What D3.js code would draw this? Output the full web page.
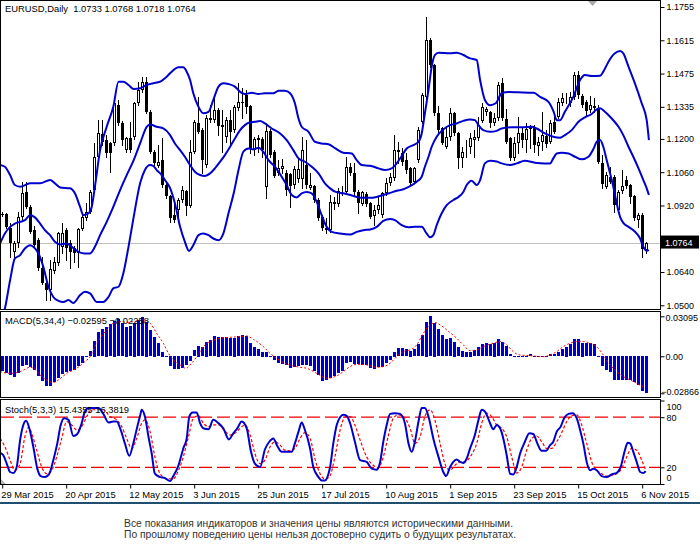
<!DOCTYPE html>
<html>
<head>
<meta charset="utf-8">
<script src="https://d3js.org/d3.v7.min.js"></script>
<style>
  body { margin: 0; background: #fff; }
  svg text { font-family: Tahoma, "Liberation Sans", Arial, sans-serif; }
</style>
</head>
<body>
<svg id="chart"></svg>
<script>
// EURUSD daily, bars numbered 1..162 from left to right
var opens = [1.0884,1.0884,1.0825,1.0724,1.0761,1.0871,1.0976,1.0913,1.0816,1.0774,
  1.0656,1.0593,1.0564,1.0644,1.0677,1.0745,1.0816,1.0761,1.0740,1.0719,
  1.0820,1.0867,1.0892,1.0985,1.1124,1.1221,1.1195,1.1182,1.1182,1.1342,
  1.1267,1.1153,1.1204,1.1208,1.1351,1.1406,1.1439,1.1313,1.1145,1.1086,
  1.1111,1.1006,1.0959,1.0879,1.0900,1.0943,1.0980,1.0917,1.1145,1.1267,
  1.1237,1.1090,1.1279,1.1279,1.1321,1.1258,1.1208,1.1279,1.1237,1.1330,
  1.1355,1.1385,1.1338,1.1153,1.1195,1.1199,1.0997,1.1233,1.1145,1.1056,
  1.1073,1.1056,1.1052,1.1006,1.1031,1.1031,1.1090,1.0993,1.1001,1.0943,
  1.0871,1.0825,1.0816,1.0935,1.0928,1.0980,1.0976,1.1081,1.1056,1.0976,
  1.0926,1.0968,1.0930,1.0875,1.0900,1.0879,1.0972,1.1014,1.1035,1.1145,
  1.1140,1.1111,1.1077,1.1018,1.1111,1.1271,1.1376,1.1616,1.1511,1.1309,
  1.1246,1.1166,1.1208,1.1309,1.1225,1.1119,1.1161,1.1166,1.1195,1.1204,
  1.1275,1.1313,1.1313,1.1267,1.1288,1.1435,1.1284,1.1204,1.1119,1.1182,
  1.1225,1.1195,1.1241,1.1246,1.1170,1.1187,1.1212,1.1187,1.1271,1.1292,
  1.1351,1.1364,1.1351,1.1376,1.1469,1.1380,1.1355,1.1321,1.1338,1.1330,
  1.1098,1.0997,1.1039,1.1039,1.0900,1.0980,1.1027,1.1006,1.0959,1.0858,
  1.0879,1.0733];
var highs = [1.0892,1.0888,1.0846,1.0770,1.0892,1.1018,1.1018,1.0921,1.0833,1.0783,
  1.0703,1.0597,1.0690,1.0703,1.0808,1.0846,1.0825,1.0774,1.0749,1.0825,
  1.0888,1.0930,1.0985,1.1182,1.1279,1.1279,1.1216,1.1187,1.1372,1.1364,
  1.1275,1.1208,1.1271,1.1355,1.1439,1.1460,1.1460,1.1321,1.1153,1.1174,
  1.1204,1.1014,1.0964,1.0926,1.0951,1.1001,1.0985,1.1195,1.1279,1.1376,
  1.1246,1.1300,1.1342,1.1376,1.1330,1.1321,1.1292,1.1321,1.1342,1.1435,
  1.1414,1.1406,1.1342,1.1208,1.1216,1.1208,1.1258,1.1241,1.1153,1.1111,
  1.1115,1.1069,1.1056,1.1086,1.1119,1.1208,1.1195,1.1056,1.1006,1.0951,
  1.0879,1.0867,1.0964,1.0955,1.0995,1.1000,1.1124,1.1098,1.1098,1.0985,
  1.0980,1.0976,1.0934,1.0921,1.0955,1.0976,1.1035,1.1056,1.1216,1.1187,
  1.1161,1.1140,1.1081,1.1081,1.1250,1.1393,1.1713,1.1625,1.1515,1.1338,
  1.1250,1.1246,1.1330,1.1313,1.1229,1.1166,1.1195,1.1225,1.1237,1.1292,
  1.1351,1.1334,1.1317,1.1309,1.1439,1.1456,1.1326,1.1208,1.1208,1.1292,
  1.1250,1.1267,1.1258,1.1258,1.1208,1.1313,1.1237,1.1279,1.1292,1.1372,
  1.1393,1.1393,1.1397,1.1481,1.1486,1.1389,1.1364,1.1380,1.1372,1.1342,
  1.1132,1.1060,1.1081,1.1048,1.0985,1.1069,1.1044,1.1010,1.0964,1.0888,
  1.0888,1.0768];
var lows = [1.0875,1.0825,1.0703,1.0703,1.0745,1.0858,1.0909,1.0804,1.0740,1.0648,
  1.0589,1.0522,1.0522,1.0635,1.0669,1.0719,1.0690,1.0656,1.0682,1.0660,
  1.0816,1.0858,1.0888,1.0976,1.1111,1.1174,1.1124,1.1060,1.1174,1.1258,
  1.1174,1.1145,1.1145,1.1199,1.1342,1.1397,1.1309,1.1140,1.1086,1.1081,
  1.0997,1.0951,1.0850,1.0850,1.0871,1.0934,1.0879,1.0913,1.1140,1.1225,
  1.1056,1.1081,1.1271,1.1271,1.1216,1.1145,1.1187,1.1174,1.1229,1.1321,
  1.1288,1.1309,1.1140,1.1132,1.1145,1.1124,1.0951,1.1124,1.1039,1.1048,
  1.1056,1.0964,1.0913,1.0993,1.1018,1.0993,1.0993,1.0989,1.0934,1.0858,
  1.0816,1.0804,1.0808,1.0905,1.0918,1.0965,1.0972,1.1048,1.0964,1.0888,
  1.0921,1.0917,1.0867,1.0837,1.0888,1.0871,1.0964,1.1006,1.1027,1.1098,
  1.1090,1.1056,1.1006,1.1014,1.1102,1.1267,1.1372,1.1502,1.1300,1.1229,
  1.1178,1.1161,1.1195,1.1216,1.1077,1.1081,1.1124,1.1140,1.1124,1.1195,
  1.1271,1.1300,1.1250,1.1258,1.1279,1.1279,1.1182,1.1111,1.1111,1.1140,
  1.1166,1.1145,1.1161,1.1145,1.1132,1.1153,1.1166,1.1182,1.1225,1.1288,
  1.1342,1.1351,1.1338,1.1368,1.1372,1.1334,1.1300,1.1313,1.1313,1.1098,
  1.0993,1.0993,1.1014,1.0892,1.0892,1.0972,1.0993,1.0930,1.0858,1.0829,
  1.0703,1.0718];
var closes = [1.0880,1.0829,1.0761,1.0761,1.0871,1.0972,1.0913,1.0808,1.0753,1.0656,
  1.0593,1.0564,1.0652,1.0682,1.0804,1.0804,1.0740,1.0724,1.0719,1.0820,
  1.0871,1.0892,1.0976,1.1124,1.1225,1.1187,1.1140,1.1140,1.1351,1.1267,
  1.1195,1.1204,1.1153,1.1351,1.1406,1.1439,1.1313,1.1145,1.1098,1.1102,
  1.1006,1.0959,1.0867,1.0858,1.0943,1.0985,1.0917,1.1145,1.1271,1.1229,
  1.1111,1.1288,1.1288,1.1321,1.1254,1.1250,1.1279,1.1229,1.1334,1.1355,
  1.1351,1.1334,1.1161,1.1199,1.1204,1.1153,1.1233,1.1132,1.1044,1.1077,
  1.1086,1.0985,1.1001,1.1073,1.1073,1.1153,1.1006,1.1006,1.0943,1.0867,
  1.0825,1.0816,1.0934,1.0928,1.0980,1.0983,1.1081,1.1056,1.0976,1.0930,
  1.0976,1.0926,1.0871,1.0900,1.0921,1.0972,1.1014,1.1039,1.1153,1.1153,
  1.1102,1.1069,1.1014,1.1077,1.1237,1.1385,1.1616,1.1511,1.1309,1.1237,
  1.1182,1.1208,1.1309,1.1225,1.1119,1.1145,1.1166,1.1204,1.1208,1.1258,
  1.1334,1.1326,1.1267,1.1288,1.1427,1.1288,1.1187,1.1119,1.1182,1.1225,
  1.1195,1.1241,1.1250,1.1174,1.1187,1.1216,1.1178,1.1267,1.1229,1.1355,
  1.1372,1.1368,1.1376,1.1469,1.1385,1.1342,1.1317,1.1342,1.1330,1.1102,
  1.1010,1.1048,1.1018,1.0921,1.0976,1.1001,1.1001,1.0955,1.0867,1.0879,
  1.0736,1.0764];

// Bollinger bands: [bar, price]
var bbUpper = [[0.6,1.1090],[1.8,1.1083],[3.1,1.1048],[4.3,1.1006],[5.6,1.0999],[8.1,1.1013],[10.6,1.1013],[13.1,1.1027],[14.3,1.1013],[15.6,1.0996],
  [18.1,1.0992],[19.3,1.0971],[20.6,1.0914],[21.4,1.0879],[22.7,1.0887],[23.5,1.0914],[24.3,1.0999],[25.6,1.1153],[27.25,1.1251],[28.9,1.1335],
  [30.2,1.1441],[31.4,1.1441],[32.7,1.1427],[34,1.1410],[35.6,1.1413],[37.25,1.1427],[38.9,1.1434],[40.6,1.1441],[42.25,1.1462],[43.5,1.1483],
  [45.2,1.1501],[46.4,1.1501],[47.25,1.1483],[48.1,1.1448],[48.9,1.1392],[50.2,1.1335],[51.4,1.1308],[52.7,1.1314],[53.9,1.1364],[55.2,1.1420],
  [56.4,1.1434],[57.7,1.1431],[59.3,1.1420],[60.6,1.1398],[61.8,1.1389],[63.5,1.1394],[65.2,1.1389],[66.8,1.1392],[68.9,1.1392],[70.2,1.1403],
  [71.8,1.1403],[73.1,1.1392],[74.3,1.1350],[75.2,1.1286],[76,1.1251],[77.7,1.1230],[79.3,1.1188],[81,1.1181],[82.7,1.1178],[84.3,1.1161],
  [86.4,1.1142],[88.5,1.1139],[89.75,1.1111],[91,1.1090],[93.1,1.1087],[95.2,1.1076],[96.8,1.1069],[98.5,1.1076],[99.75,1.1097],[101,1.1128],
  [102.25,1.1160],[103.9,1.1174],[105.2,1.1188],[106,1.1223],[106.8,1.1308],[107.7,1.1406],[108.5,1.1504],[109.3,1.1553],[110.2,1.1563],[113.1,1.1560],
  [114.75,1.1563],[116.4,1.1553],[118.1,1.1539],[119.75,1.1532],[120.6,1.1448],[121.8,1.1364],[123.1,1.1342],[124.5,1.1350],[126,1.1392],[127.7,1.1397],
  [130.2,1.1396],[134,1.1394],[135.6,1.1377],[137.7,1.1356],[139,1.1314],[139.75,1.1279],[140.6,1.1279],[141.8,1.1314],[143.9,1.1377],[145.6,1.1448],
  [146.8,1.1469],[148.5,1.1465],[150.6,1.1466],[151.4,1.1483],[152.7,1.1525],[154.3,1.1560],[155.6,1.1570],[156.4,1.1560],[157.7,1.1504],[159.3,1.1434],
  [161,1.1350],[162.25,1.1279],[162.8,1.1195]];
var bbMiddle = [[0.6,1.0760],[1.8,1.0802],[3.1,1.0830],[4.3,1.0844],[5.6,1.0851],[6.8,1.0858],[8.1,1.0879],[9.3,1.0870],[10.6,1.0844],[11.8,1.0816],
  [13.1,1.0795],[14.3,1.0767],[15.6,1.0756],[17.25,1.0760],[18.5,1.0746],[20.2,1.0725],[21.8,1.0718],[23.1,1.0718],[24.3,1.0746],[25.6,1.0795],
  [27.25,1.0851],[28.9,1.0914],[30.6,1.0985],[32.25,1.1048],[34,1.1111],[35.6,1.1181],[37.25,1.1251],[38.1,1.1261],[39.75,1.1251],[41.4,1.1244],
  [43.1,1.1216],[44.3,1.1181],[45.6,1.1153],[46.8,1.1125],[48.1,1.1090],[49.3,1.1062],[50.6,1.1048],[51.8,1.1044],[53.1,1.1055],[54.3,1.1076],
  [55.6,1.1104],[56.8,1.1132],[58.1,1.1167],[59.3,1.1202],[60.6,1.1237],[61.8,1.1258],[63.1,1.1270],[64.3,1.1272],[65.6,1.1275],[66.8,1.1265],
  [68.5,1.1244],[70.6,1.1223],[72.25,1.1195],[73.9,1.1153],[75.2,1.1118],[76.8,1.1104],[78.5,1.1083],[80.2,1.1055],[81.8,1.1013],[83.1,1.0992],
  [84.5,1.0977],[86.4,1.0971],[88.1,1.0964],[89.75,1.0956],[91.4,1.0952],[93.1,1.0952],[94.75,1.0956],[96.4,1.0964],[98.1,1.0973],[99.75,1.0982],
  [101.4,1.0988],[103.1,1.1001],[104.75,1.1020],[106,1.1041],[106.8,1.1083],[107.7,1.1125],[108.5,1.1167],[109.75,1.1209],[111.4,1.1240],[113.1,1.1258],
  [114.75,1.1265],[116.4,1.1276],[118.1,1.1282],[119.3,1.1279],[120.2,1.1258],[121.4,1.1237],[123.1,1.1230],[124.75,1.1234],[126,1.1244],[128.5,1.1249],
  [131,1.1249],[133.5,1.1251],[134.75,1.1244],[136.8,1.1223],[138.9,1.1209],[140.6,1.1205],[141.8,1.1216],[143.5,1.1237],[145.2,1.1272],[146.8,1.1291],
  [148.5,1.1305],[149.75,1.1324],[150.6,1.1329],[151.8,1.1314],[153.5,1.1286],[155.2,1.1251],[156.4,1.1216],[157.7,1.1167],[158.9,1.1125],[160.2,1.1076],
  [161.4,1.1027],[162.25,1.0992],[162.8,1.0964]];
var bbLower = [[0.6,1.0437],[1.8,1.0487],[3.1,1.0606],[4.3,1.0697],[5.6,1.0711],[6.8,1.0739],[8.1,1.0753],[8.9,1.0746],[10.2,1.0718],[11.4,1.0662],
  [12.7,1.0578],[13.9,1.0535],[15.2,1.0519],[16.4,1.0514],[17.7,1.0522],[18.9,1.0510],[20.6,1.0543],[21.8,1.0557],[23.1,1.0550],[24.75,1.0514],
  [26.4,1.0514],[27.7,1.0535],[28.9,1.0571],[30.2,1.0578],[31.4,1.0634],[32.7,1.0746],[34,1.0872],[35.6,1.1013],[36.8,1.1069],[38.1,1.1090],
  [38.9,1.1086],[39.75,1.1069],[41,1.1048],[41.8,1.1027],[43.1,1.0993],[44.3,1.0929],[45.6,1.0830],[46.8,1.0767],[47.8,1.0729],[48.9,1.0753],
  [50.2,1.0795],[51.4,1.0802],[52.7,1.0795],[53.9,1.0781],[55.2,1.0774],[56.4,1.0802],[57.7,1.0887],[59,1.0971],[60.2,1.1069],[61.4,1.1146],
  [62.7,1.1160],[63.9,1.1156],[65.2,1.1163],[66.4,1.1146],[67.7,1.1111],[69.3,1.1083],[71,1.1041],[72.25,1.1006],[73.5,1.0964],[74.75,1.0954],
  [76,1.0971],[77.25,1.0977],[78.5,1.0971],[79.75,1.0935],[81,1.0879],[82.25,1.0830],[83.5,1.0809],[85.6,1.0802],[88.1,1.0798],[89.75,1.0809],
  [91.4,1.0816],[93.1,1.0819],[94.75,1.0830],[96.4,1.0855],[98.1,1.0863],[99.3,1.0858],[101,1.0837],[102.7,1.0828],[104.3,1.0830],[106,1.0830],
  [107.25,1.0802],[108.1,1.0786],[108.9,1.0795],[109.75,1.0837],[111,1.0887],[112.25,1.0921],[113.9,1.0943],[115.2,1.0956],[116.4,1.0977],[117.25,1.1006],
  [118.5,1.1024],[119.75,1.1006],[120.6,1.1027],[121.8,1.1097],[123.1,1.1108],[124.75,1.1105],[126,1.1097],[128.1,1.1090],[129.75,1.1097],[131.8,1.1108],
  [134.3,1.1100],[136.8,1.1097],[138.1,1.1097],[138.9,1.1118],[139.75,1.1139],[141,1.1142],[142.7,1.1139],[144.3,1.1125],[146,1.1114],[147.7,1.1125],
  [149,1.1160],[149.75,1.1188],[150.6,1.1195],[151.4,1.1167],[152.25,1.1111],[153.1,1.1055],[153.9,1.0999],[154.75,1.0929],[155.6,1.0872],[156.4,1.0847],
  [157.7,1.0830],[158.9,1.0816],[159.75,1.0802],[160.6,1.0781],[161.4,1.0746],[162.25,1.0729],[162.8,1.0732]];

// MACD(5,34,4) histogram, one value per bar, and its signal line
var macdHist = [-0.01187,-0.01316,-0.01497,-0.01652,-0.01316,-0.00800,-0.00671,-0.00852,-0.01058,-0.01574,
  -0.01961,-0.02348,-0.02297,-0.02039,-0.01703,-0.01394,-0.01265,-0.01187,-0.01058,-0.00748,
  -0.00542,-0.00103,0.00413,0.01213,0.01858,0.02090,0.02297,0.02503,0.02761,0.02865,
  0.02555,0.02297,0.02348,0.02606,0.02813,0.03050,0.02684,0.02039,0.01523,0.01006,
  0.00361,-0.00103,-0.00748,-0.00981,-0.00981,-0.00929,-0.00671,-0.00361,0.00490,0.00826,
  0.00697,0.01135,0.01265,0.01574,0.01523,0.01471,0.01471,0.01419,0.01445,0.01574,
  0.01626,0.01574,0.01006,0.00697,0.00542,0.00361,0.00361,0.00052,-0.00335,-0.00542,
  -0.00619,-0.00671,-0.00929,-0.00852,-0.00800,-0.00671,-0.00671,-0.00800,-0.01135,-0.01445,
  -0.01961,-0.01832,-0.01703,-0.01574,-0.01316,-0.01135,-0.00542,-0.00490,-0.00594,-0.00594,
  -0.00671,-0.00671,-0.00929,-0.01006,-0.00877,-0.00852,-0.00542,-0.00284,0.00361,0.00619,
  0.00619,0.00542,0.00439,0.00542,0.00955,0.01652,0.02684,0.03095,0.02606,0.02116,
  0.01652,0.01316,0.01394,0.01135,0.00697,0.00439,0.00361,0.00361,0.00490,0.00697,
  0.00929,0.01006,0.00955,0.01058,0.01316,0.01084,0.00800,0.00181,-0.00026,0.00052,
  -0.00026,0.00052,0.00155,0.00026,-0.00077,-0.00026,-0.00026,0.00155,0.00181,0.00310,
  0.00542,0.00748,0.00929,0.01316,0.01316,0.01058,0.01006,0.01006,0.00929,-0.00026,
  -0.00800,-0.01058,-0.01265,-0.01832,-0.01884,-0.01832,-0.01832,-0.01884,-0.02039,-0.02219,
  -0.02735,-0.02866];
var macdSignal = [[0.6,-0.0119],[3.1,-0.0132],[5.6,-0.0119],[8.1,-0.0085],[9.3,-0.0101],[10.6,-0.0145],[12.25,-0.0183],[13.9,-0.0204],[15.2,-0.0183],[17.25,-0.0132],
  [19.75,-0.0093],[21.8,-0.0041],[23.1,-0.0003],[24.3,0.0075],[25.6,0.0139],[27.25,0.0204],[28.9,0.0256],[30.6,0.0268],[32.25,0.0263],[33.9,0.0268],
  [36.4,0.0281],[38.1,0.0256],[39.75,0.0178],[41.4,0.0101],[42.7,0.0023],[43.9,-0.0028],[45.6,-0.0067],[47,-0.0093],[48.5,-0.0054],[49.75,-0.0003],
  [51.4,0.0075],[53.1,0.0114],[55.6,0.0139],[58.1,0.0147],[60.6,0.0152],[62.25,0.0157],[63.9,0.0132],[66.4,0.0075],[68.1,0.0023],[69.75,-0.0016],
  [71.4,-0.0049],[73.9,-0.0075],[75.6,-0.0085],[77.25,-0.0093],[79.75,-0.0132],[82.25,-0.0170],[84.75,-0.0152],[86.4,-0.0119],[88.1,-0.0080],[89.75,-0.0062],
  [92.25,-0.0067],[94.75,-0.0085],[96.4,-0.0080],[98.1,-0.0054],[99.75,-0.0003],[101.4,0.0036],[103.5,0.0054],[104.75,0.0088],[106.4,0.0178],[108.1,0.0243],
  [109.3,0.0261],[110.6,0.0243],[112.25,0.0204],[114.75,0.0139],[116.4,0.0088],[118.1,0.0044],[119.75,0.0049],[121.4,0.0075],[123.9,0.0101],[125.6,0.0114],
  [127.25,0.0088],[128.9,0.0036],[130.5,0.0010],[133,0.0005],[136.4,-0.0003],[138.1,0.0010],[139.75,0.0036],[141.4,0.0075],[143.1,0.0101],[144.75,0.0114],
  [146.4,0.0114],[148.1,0.0101],[149.75,0.0075],[151.4,0.0010],[153.1,-0.0067],[154.75,-0.0119],[156.4,-0.0157],[158.1,-0.0183],[159.75,-0.0209],[161,-0.0230],
  [162,-0.0236]];

// Stochastic(5,3,3): main and signal, [bar, value]
var stochMain = [[0.6,37.3],[1.4,34.5],[2.25,24.4],[3.1,14.4],[3.9,13.2],[4.75,20.4],[5.6,52.6],[6.4,70.7],[7.1,75.6],[7.9,66.7],
  [8.9,44.6],[9.9,18.4],[10.75,9.5],[11.8,8.3],[12.9,12.3],[13.9,28.5],[14.9,48.6],[15.75,70.7],[16.6,78.8],[17.7,76.8],
  [18.9,57.5],[19.9,59.9],[21,72.8],[21.8,86.9],[22.7,90.9],[23.9,90.9],[25.2,90.9],[26.4,84.0],[27.7,73.6],[28.9,74.8],
  [29.75,74.8],[30.75,64.7],[31.8,48.6],[32.9,33.7],[33.9,48.6],[34.9,68.7],[35.6,81.6],[36,88.9],[36.8,80.8],[37.7,56.6],
  [38.5,36.5],[39.3,12.3],[40.6,8.3],[41.8,7.1],[43.1,3.5],[43.9,9.5],[45.2,22.4],[46.4,42.6],[47.25,54.6],[47.9,80.8],
  [48.75,85.6],[49.75,85.6],[50.6,72.8],[51.4,66.7],[52.7,65.5],[53.9,76.8],[55.2,72.8],[56.4,66.7],[57.8,53.4],[58.9,60.7],
  [59.9,66.7],[61,74.8],[62.25,66.7],[63.25,40.5],[64.3,24.4],[65.6,20.4],[66.8,41.3],[67.9,50.6],[68.9,54.6],[69.9,45.4],
  [71,38.5],[72.25,38.5],[73.5,38.5],[74.3,48.6],[75.2,62.7],[76,73.6],[76.8,64.7],[78.1,42.6],[78.9,20.4],[80.2,8.3],
  [81,4.3],[81.8,4.3],[82.7,12.3],[83.1,20.4],[83.9,48.6],[84.75,70.7],[85.6,80.0],[86.4,82.8],[87.25,81.6],[88.1,72.8],
  [89.3,50.6],[90.6,28.5],[92.25,26.4],[93.5,18.4],[94.75,17.2],[95.6,26.4],[96.4,50.6],[97.25,70.7],[98.1,84.0],[99.3,84.8],
  [100.6,84.0],[101.8,72.8],[102.7,48.6],[103.5,38.5],[104.3,50.6],[105.2,74.8],[106,90.9],[106.8,90.9],[107.7,80.8],[108.9,54.6],
  [110.2,32.5],[111.4,14.4],[112.1,9.5],[113.1,20.4],[113.9,26.4],[114.75,29.3],[115.6,26.4],[116.4,25.2],[117.25,30.5],[118.1,42.6],
  [119.3,58.7],[120.2,76.8],[121,88.9],[121.8,86.9],[123.1,72.8],[123.9,65.5],[124.75,70.7],[125.6,66.7],[126.4,54.6],[127.25,34.5],
  [128.1,12.3],[128.9,11.5],[129.75,20.4],[130.6,36.5],[131.8,50.6],[132.9,60.7],[133.9,59.9],[134.9,48.6],[136,39.7],[137.1,39.7],
  [138.1,46.6],[138.9,50.6],[139.75,62.7],[140.75,68.7],[141.6,78.8],[142.7,84.0],[143.7,84.8],[144.75,78.8],[145.6,64.7],[146.4,48.6],
  [147.25,26.4],[148.1,16.4],[148.9,18.4],[149.75,16.4],[151,9.5],[152.25,8.3],[153.5,11.5],[154.75,13.2],[155.75,20.4],[156.8,40.5],
  [157.5,49.4],[158.1,48.6],[158.9,38.5],[159.75,26.4],[160.6,14.4],[161.4,13.2],[162,15.4]];
var stochSignal = [[0.6,54.6],[1.8,44.6],[3.1,28.5],[4.3,16.4],[5.6,24.4],[6.8,56.6],[7.7,67.9],[8.5,60.7],[9.75,40.5],[11,20.4],
  [12.25,12.3],[13.5,16.4],[14.75,32.5],[16,54.6],[17.25,74.8],[18.5,70.7],[19.75,64.7],[21,68.7],[22.25,80.8],[23.5,88.9],
  [25.2,88.9],[26.4,88.9],[28.1,80.8],[29.75,76.8],[31,68.7],[32.25,54.6],[33.5,42.6],[34.75,54.6],[36,72.8],[36.8,76.8],
  [38.1,62.7],[39.3,32.5],[40.6,12.3],[42.25,6.3],[43.9,6.3],[45.2,16.4],[46.4,32.5],[47.7,56.6],[48.9,78.8],[50.2,81.6],
  [51.4,72.8],[52.7,68.7],[53.9,70.7],[55.2,70.7],[56.4,65.5],[58.1,58.7],[59.3,60.7],[60.6,66.7],[61.8,70.7],[63.1,58.7],
  [64.3,36.5],[65.6,24.4],[66.8,28.5],[68.1,44.6],[69.3,50.6],[70.6,46.6],[71.8,40.5],[73.1,39.7],[74.3,42.6],[75.6,54.6],
  [76.8,61.5],[78.1,54.6],[79.3,30.5],[80.6,12.3],[81.8,6.3],[82.9,8.3],[84.3,32.5],[85.6,64.7],[86.8,80.0],[88.1,80.8],
  [89.3,70.7],[90.6,52.6],[92.25,32.5],[93.9,22.4],[95.2,19.6],[96.4,32.5],[97.7,58.7],[98.9,78.8],[100.2,82.8],[101.4,80.8],
  [103.1,66.7],[104.3,48.6],[105.6,56.6],[106.8,80.8],[108.1,88.9],[109.3,76.8],[110.6,48.6],[111.8,24.4],[113.1,16.4],[114.3,22.4],
  [115.6,26.4],[116.8,26.4],[118.1,32.5],[119.75,48.6],[121,72.8],[122.25,84.8],[123.5,80.8],[124.75,70.7],[126,66.7],[127.25,56.6],
  [128.5,32.5],[129.75,13.2],[131,20.4],[132.25,40.5],[133.5,54.6],[134.75,57.5],[136,50.6],[137.25,42.6],[138.5,42.6],[139.75,50.6],
  [141,61.5],[142.25,74.8],[143.5,81.6],[144.75,82.8],[146,70.7],[147.25,48.6],[148.5,26.4],[149.75,16.4],[151,12.3],[152.25,9.5],
  [153.5,10.3],[154.75,12.3],[156,18.4],[157.25,32.5],[158.5,42.6],[159.75,40.5],[161,28.5],[162,16.4]];

var priceTicks = [1.1755, 1.1615, 1.1475, 1.1335, 1.1200, 1.1060, 1.0920, 1.0780, 1.0640, 1.0500];
var macdTicks = [0.03095, 0, -0.02866];
var stochTicks = [100, 80, 20, 0];
var stochLevels = [80, 20];
var dateBars = [1, 17, 33, 49, 65, 81, 97, 113, 129, 145, 161];
var dateLabels = ['29 Mar 2015', '20 Apr 2015', '12 May 2015', '3 Jun 2015', '25 Jun 2015', '17 Jul 2015',
  '10 Aug 2015', '1 Sep 2015', '23 Sep 2015', '15 Oct 2015', '6 Nov 2015'];
var lastBar = {o: 1.0733, h: 1.0768, l: 1.0718, c: 1.0764};
var lastMacd = [-0.02595, -0.02258];
var lastStoch = [15.4355, 16.3819];
var disclaimer = ['Все показания индикаторов и значения цены являются историческими данными.',
  'По прошлому поведению цены нельзя достоверно судить о будущих результатах.'];

var W = 700, H = 552, axisX = 660,
    blue = '#0000cd', red = '#ff0000', fs = 9.4, axisFs = 9;

var svg = d3.select('#chart').attr('width', W).attr('height', H);
svg.append('rect').attr('width', W).attr('height', H).attr('fill', '#fff');

var x = d3.scaleLinear().domain([1, 162]).range([1.7, 645.7]);
var yPrice = d3.scaleLinear().domain([1.05, 1.1755]).range([305.3, 7]);
var yMacd = d3.scaleLinear().domain([-0.02866, 0.03095]).range([393.3, 316.3]);
var yStoch = d3.scaleLinear().domain([0, 100]).range([484, 400.5]);

var panels = [
  {id: 'clipMain', top: 0.5, bottom: 309.5},
  {id: 'clipMacd', top: 311.5, bottom: 397.5},
  {id: 'clipStoch', top: 399.5, bottom: 484.5}
];

var defs = svg.append('defs');
panels.forEach(function (p) {
  defs.append('clipPath').attr('id', p.id).append('rect')
    .attr('x', 1).attr('y', p.top + 0.5)
    .attr('width', axisX - 1).attr('height', p.bottom - p.top - 1);
});

// current price line
svg.append('line')
  .attr('x1', 1).attr('x2', axisX)
  .attr('y1', Math.round(yPrice(lastBar.c)) + 0.5).attr('y2', Math.round(yPrice(lastBar.c)) + 0.5)
  .attr('stroke', '#c0c0c0').attr('stroke-width', 1);

// candles
var bars = opens.map(function (o, k) {
  return {n: k + 1, o: o, h: highs[k], l: lows[k], c: closes[k]};
});
var candles = svg.append('g').attr('clip-path', 'url(#clipMain)').attr('shape-rendering', 'crispEdges');
candles.selectAll('line').data(bars).enter().append('line')
  .attr('x1', function (d) { return Math.round(x(d.n)) + 0.5; })
  .attr('x2', function (d) { return Math.round(x(d.n)) + 0.5; })
  .attr('y1', function (d) { return Math.round(yPrice(d.h)); })
  .attr('y2', function (d) { return Math.round(yPrice(d.l)) + 1; })
  .attr('stroke', '#000');
candles.selectAll('rect').data(bars).enter().append('rect')
  .attr('x', function (d) { return d.c >= d.o ? Math.round(x(d.n)) - 0.5 : Math.round(x(d.n)) - 1; })
  .attr('y', function (d) { return d.c >= d.o ? Math.round(yPrice(d.c)) + 0.5 : Math.round(yPrice(d.o)); })
  .attr('width', function (d) { return d.c >= d.o ? 2 : 3; })
  .attr('height', function (d) {
    var a = Math.round(yPrice(d.o)), b = Math.round(yPrice(d.c));
    return d.c >= d.o ? Math.max(0, a - b - 1) : Math.max(1, b - a);
  })
  .attr('fill', function (d) { return d.c >= d.o ? '#fff' : '#000'; })
  .attr('stroke', function (d) { return d.c >= d.o ? '#000' : 'none'; })
  .attr('stroke-width', 1);

// bands
var bandLine = d3.line()
  .x(function (d) { return x(d[0]); })
  .y(function (d) { return yPrice(d[1]); })
  .curve(d3.curveMonotoneX);
svg.append('g').attr('clip-path', 'url(#clipMain)')
  .selectAll('path').data([bbUpper, bbMiddle, bbLower]).enter().append('path')
  .attr('d', bandLine)
  .attr('fill', 'none').attr('stroke', blue).attr('stroke-width', 2);

// MACD histogram + signal
var macdG = svg.append('g').attr('clip-path', 'url(#clipMacd)');
macdG.append('g').attr('shape-rendering', 'crispEdges')
  .selectAll('rect').data(macdHist).enter().append('rect')
  .attr('x', function (d, k) { return Math.round(x(k + 1)) - 1; })
  .attr('y', function (d) { return Math.round(Math.min(yMacd(d), yMacd(0))); })
  .attr('width', 3)
  .attr('height', function (d) { return Math.max(1, Math.round(Math.abs(yMacd(d) - yMacd(0)))); })
  .attr('fill', blue);
macdG.append('path')
  .attr('d', d3.line()
    .x(function (d) { return x(d[0]); })
    .y(function (d) { return yMacd(d[1]); })
    .curve(d3.curveMonotoneX)(macdSignal))
  .attr('fill', 'none').attr('stroke', red).attr('stroke-width', 1)
  .attr('stroke-dasharray', '2,2');

// Stochastic
var stochG = svg.append('g').attr('clip-path', 'url(#clipStoch)');
stochG.selectAll('line').data(stochLevels).enter().append('line')
  .attr('x1', 1).attr('x2', axisX)
  .attr('y1', function (d) { return yStoch(d); })
  .attr('y2', function (d) { return yStoch(d); })
  .attr('stroke', '#f00000').attr('stroke-width', 1.3)
  .attr('stroke-dasharray', '13,5');
var stochLine = d3.line()
  .x(function (d) { return x(d[0]); })
  .y(function (d) { return yStoch(d[1]); })
  .curve(d3.curveMonotoneX);
stochG.append('path').attr('d', stochLine(stochSignal))
  .attr('fill', 'none').attr('stroke', red).attr('stroke-width', 1.2)
  .attr('stroke-dasharray', '3,2');
stochG.append('path').attr('d', stochLine(stochMain))
  .attr('fill', 'none').attr('stroke', blue).attr('stroke-width', 2);

// panel frames
panels.forEach(function (p) {
  svg.append('rect')
    .attr('x', 0.5).attr('y', p.top)
    .attr('width', axisX).attr('height', p.bottom - p.top)
    .attr('fill', 'none').attr('stroke', '#000').attr('stroke-width', 1)
    .attr('shape-rendering', 'crispEdges');
});

// right axes
function styleAxis(g) {
  g.select('.domain').remove();
  g.selectAll('.tick line').attr('stroke', '#000');
  g.selectAll('.tick text').attr('font-size', axisFs).attr('fill', '#000')
    .attr('font-family', 'Tahoma, "Liberation Sans", Arial, sans-serif');
}
svg.append('g').attr('transform', 'translate(' + (axisX + 0.5) + ',0)')
  .call(d3.axisRight(yPrice).tickValues(priceTicks).tickFormat(d3.format('.4f')).tickSize(4).tickPadding(2))
  .call(styleAxis);
svg.append('g').attr('transform', 'translate(' + (axisX + 0.5) + ',0)')
  .call(d3.axisRight(yMacd).tickValues(macdTicks)
    .tickFormat(function (d) { return d === 0 ? '0.00' : d3.format('.5f')(d); })
    .tickSize(4).tickPadding(1))
  .call(styleAxis)
  .selectAll('.tick text')
  .attr('dy', function (d) { return d > 0 ? '0.5em' : (d < 0 ? '0.1em' : '0.32em'); })
  .attr('text-anchor', function (d) { return d < 0 ? 'end' : 'start'; })
  .attr('x', function (d) { return d < 0 ? W - axisX - 1.5 : 5; });
svg.append('g').attr('transform', 'translate(' + (axisX + 0.5) + ',0)')
  .call(d3.axisRight(yStoch).tickValues(stochTicks).tickSize(4).tickPadding(2))
  .call(styleAxis)
  .selectAll('.tick text')
  .attr('dy', function (d) { return d === 100 ? '0.95em' : (d === 0 ? '-0.35em' : '0.32em'); });

// current price tag
var tagY = yPrice(lastBar.c);
svg.append('rect').attr('x', axisX + 1).attr('y', tagY - 7).attr('width', 38).attr('height', 13).attr('fill', '#000');
svg.append('text').attr('x', axisX + 5).attr('y', tagY).attr('dy', '0.35em')
  .attr('font-size', axisFs).attr('fill', '#fff').text(d3.format('.4f')(lastBar.c));

// date axis
var dateAxis = svg.append('g').attr('transform', 'translate(0,484.5)')
  .call(d3.axisBottom(x).tickValues(dateBars)
    .tickFormat(function (d, k) { return dateLabels[k]; }).tickSize(4).tickPadding(3));
dateAxis.select('.domain').remove();
dateAxis.selectAll('.tick line').attr('stroke', '#000').attr('transform', 'translate(0.5,0)');
dateAxis.selectAll('.tick text').attr('text-anchor', 'start').attr('dx', -1)
  .attr('font-size', fs).attr('fill', '#000')
  .attr('font-family', 'Tahoma, "Liberation Sans", Arial, sans-serif');

// indicator captions
svg.append('text').attr('x', 5).attr('y', 12).attr('font-size', fs).attr('fill', '#000')
  .text('EURUSD,Daily  ' + [lastBar.o, lastBar.h, lastBar.l, lastBar.c].map(d3.format('.4f')).join(' '))
  .attr('xml:space', 'preserve').style('white-space', 'pre');
svg.append('text').attr('x', 5).attr('y', 324).attr('font-size', fs).attr('fill', '#000')
  .text('MACD(5,34,4) ' + lastMacd.map(d3.format('.5f')).join(' '));
svg.append('text').attr('x', 5).attr('y', 412.5).attr('font-size', fs).attr('fill', '#000')
  .text('Stoch(5,3,3) ' + lastStoch.map(d3.format('.4f')).join(' '));

// chart shift marker and small corner mark
svg.append('path').attr('d', 'M588,1 L597,1 L592.5,6 Z').attr('fill', '#a8a8a8');
svg.append('path').attr('d', 'M1,479 L1,484 L6,484 Z').attr('fill', '#b8b8b8');

// separator and disclaimer
svg.append('rect').attr('x', 0).attr('y', 502).attr('width', W).attr('height', 2).attr('fill', '#1f4e6e');
svg.selectAll('.disc').data(disclaimer).enter().append('text')
  .attr('class', 'disc')
  .attr('x', 124).attr('y', function (d, k) { return 526.5 + k * 11.5; })
  .attr('font-size', 10).attr('fill', '#333')
  .attr('textLength', function (d, k) { return k === 0 ? 389 : 392; })
  .attr('lengthAdjust', 'spacingAndGlyphs')
  .text(function (d) { return d; });
</script>
</body>
</html>
